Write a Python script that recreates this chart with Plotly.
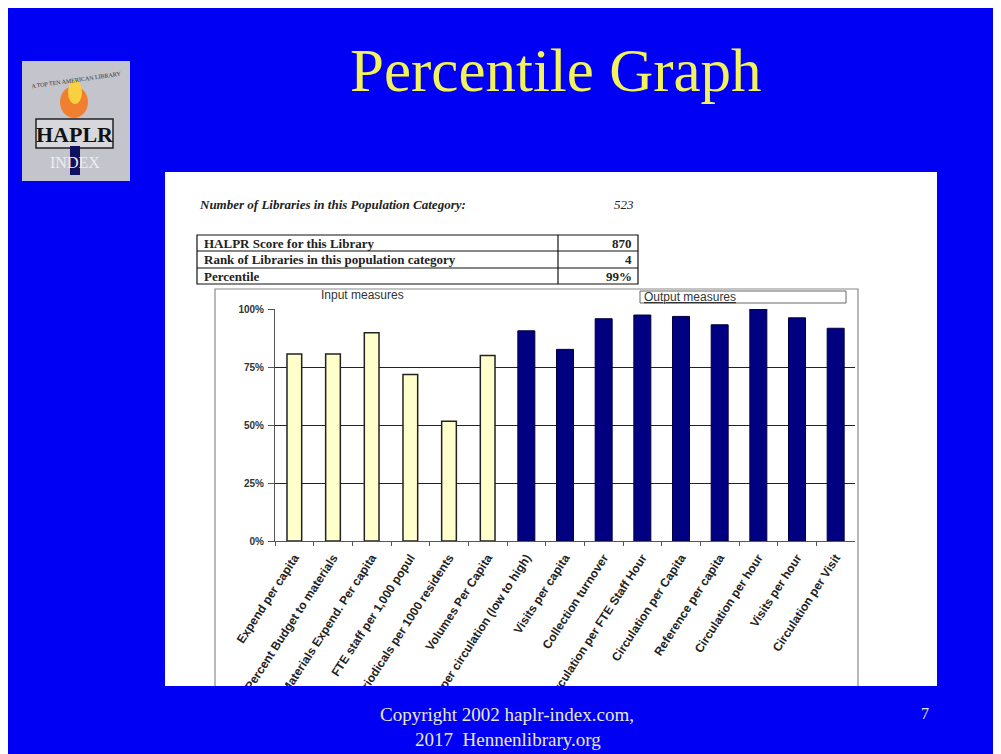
import plotly.graph_objects as go

W, H = 1001, 754
OFF = 8  # page body margin offset

categories = [
    "Expend per capita", "Percent Budget to materials", "Materials Expend. Per capita",
    "FTE staff per 1,000 popul", "Periodicals per 1000 residents", "Volumes Per Capita",
    "Cost per circulation (low to high)", "Visits per capita", "Collection turnover",
    "Circulation per FTE Staff Hour", "Circulation per Capita", "Reference per capita",
    "Circulation per hour", "Visits per hour", "Circulation per Visit",
]
input_values = [0.806, 0.806, 0.898, 0.718, 0.516, 0.80]
output_values = [0.906, 0.826, 0.958, 0.974, 0.968, 0.932, 1.0, 0.962, 0.917]
y_ticks = [0, 0.25, 0.5, 0.75, 1.0]
y_tick_labels = ["0%", "25%", "50%", "75%", "100%"]

table_rows = ["HALPR Score for this Library", "Rank of Libraries in this population category", "Percentile"]
table_values = ["870", "4", "99%"]
n_libraries = "523"


def px(x):
    return (x - OFF) / W


def py(y):
    return 1 - (y - OFF) / H


fig = go.Figure()
fig.add_trace(go.Bar(
    x=categories[:6], y=input_values, width=0.38,
    marker=dict(color="#FFFFCC", line=dict(color="#222222", width=1.5)),
    showlegend=False,
))
fig.add_trace(go.Bar(
    x=categories[6:], y=output_values, width=0.44,
    marker=dict(color="#000080", line=dict(color="#000040", width=1)),
    showlegend=False,
))

BLUE = "#0000F5"
shapes = []
# white chart area
shapes.append(dict(type="rect", xref="paper", yref="paper", x0=px(165), x1=px(937), y0=py(686), y1=py(172),
                   fillcolor="white", line=dict(width=0), layer="below"))
# chart frame
shapes.append(dict(type="rect", xref="paper", yref="paper", x0=px(215), x1=px(858), y0=py(700), y1=py(289),
                   fillcolor="rgba(0,0,0,0)", line=dict(color="#8A8A8A", width=1.2), layer="below"))
# table
shapes.append(dict(type="rect", xref="paper", yref="paper", x0=px(197), x1=px(638), y0=py(284), y1=py(235),
                   fillcolor="white", line=dict(color="#111111", width=1.2), layer="below"))
for yy in [251, 268]:
    shapes.append(dict(type="line", xref="paper", yref="paper", x0=px(197), x1=px(638), y0=py(yy), y1=py(yy),
                       line=dict(color="#111111", width=1.2), layer="below"))
shapes.append(dict(type="line", xref="paper", yref="paper", x0=px(558), x1=px(558), y0=py(284), y1=py(235),
                   line=dict(color="#111111", width=1.2), layer="below"))
# output measures box
shapes.append(dict(type="rect", xref="paper", yref="paper", x0=px(640), x1=px(846), y0=py(303), y1=py(291),
                   fillcolor="white", line=dict(color="#666666", width=1), layer="below"))
# blue cover at bottom (clips rotated labels)
shapes.append(dict(type="rect", xref="paper", yref="paper", x0=0, x1=1, y0=0, y1=py(686),
                   fillcolor=BLUE, line=dict(width=0), layer="above"))
# logo
shapes.append(dict(type="rect", xref="paper", yref="paper", x0=px(22), x1=px(130), y0=py(181), y1=py(61),
                   fillcolor="#C4C4CC", line=dict(width=0), layer="below"))
shapes.append(dict(type="circle", xref="paper", yref="paper", x0=px(60), x1=px(88), y0=py(118), y1=py(86),
                   fillcolor="#F08030", line=dict(width=0), layer="below"))
shapes.append(dict(type="circle", xref="paper", yref="paper", x0=px(68), x1=px(82), y0=py(104), y1=py(80),
                   fillcolor="#F8D040", line=dict(width=0), layer="below"))
shapes.append(dict(type="rect", xref="paper", yref="paper", x0=px(36), x1=px(113), y0=py(148), y1=py(119),
                   fillcolor="#D8D8DC", line=dict(color="#222222", width=1.5), layer="below"))
shapes.append(dict(type="rect", xref="paper", yref="paper", x0=px(70), x1=px(80), y0=py(175), y1=py(146),
                   fillcolor="#101060", line=dict(width=0), layer="below"))

annotations = []
annotations.append(dict(text="Percentile Graph", xref="paper", yref="paper", x=px(556), y=py(70),
                        showarrow=False, xanchor="center", yanchor="middle",
                        font=dict(family="Liberation Serif", size=61, color="#F2F25A")))
annotations.append(dict(text="Copyright 2002 haplr-index.com,", xref="paper", yref="paper", x=px(507), y=py(714),
                        showarrow=False, xanchor="center", yanchor="middle",
                        font=dict(family="Liberation Serif", size=19, color="#E8E8CC")))
annotations.append(dict(text="2017  Hennenlibrary.org", xref="paper", yref="paper", x=px(508), y=py(739),
                        showarrow=False, xanchor="center", yanchor="middle",
                        font=dict(family="Liberation Serif", size=19, color="#E8E8CC")))
annotations.append(dict(text="7", xref="paper", yref="paper", x=px(925), y=py(713),
                        showarrow=False, xanchor="center", yanchor="middle",
                        font=dict(family="Liberation Serif", size=16, color="#E8E8CC")))
annotations.append(dict(text="<b><i>Number of Libraries in this Population Category:</i></b>", xref="paper", yref="paper",
                        x=px(197), y=py(204), showarrow=False, xanchor="left", yanchor="middle",
                        font=dict(family="Liberation Serif", size=13, color="#222222")))
annotations.append(dict(text="<i>" + n_libraries + "</i>", xref="paper", yref="paper",
                        x=px(624), y=py(204), showarrow=False, xanchor="center", yanchor="middle",
                        font=dict(family="Liberation Serif", size=13, color="#222222")))
row_y = [243, 259.5, 276]
for label, val, yy in zip(table_rows, table_values, row_y):
    annotations.append(dict(text="<b>" + label + "</b>", xref="paper", yref="paper", x=px(202), y=py(yy),
                            showarrow=False, xanchor="left", yanchor="middle",
                            font=dict(family="Liberation Serif", size=13, color="#222222")))
    annotations.append(dict(text="<b>" + val + "</b>", xref="paper", yref="paper", x=px(634), y=py(yy),
                            showarrow=False, xanchor="right", yanchor="middle",
                            font=dict(family="Liberation Serif", size=13, color="#222222")))
annotations.append(dict(text="Input measures", xref="paper", yref="paper", x=px(362), y=py(295),
                        showarrow=False, xanchor="center", yanchor="middle",
                        font=dict(family="Arial", size=12, color="#333333")))
annotations.append(dict(text="<u>Output measures</u>", xref="paper", yref="paper", x=px(642), y=py(297),
                        showarrow=False, xanchor="left", yanchor="middle",
                        font=dict(family="Arial", size=12, color="#333333")))
annotations.append(dict(text="<b>HAPLR</b>", xref="paper", yref="paper", x=px(75), y=py(134),
                        showarrow=False, xanchor="center", yanchor="middle",
                        font=dict(family="Liberation Serif", size=22, color="#111111")))
annotations.append(dict(text="INDEX", xref="paper", yref="paper", x=px(75), y=py(162),
                        showarrow=False, xanchor="center", yanchor="middle",
                        font=dict(family="Liberation Serif", size=16, color="#EEEEEE")))
annotations.append(dict(text="A TOP TEN AMERICAN LIBRARY", xref="paper", yref="paper", x=px(76), y=py(80),
                        showarrow=False, xanchor="center", yanchor="middle", textangle=-8,
                        font=dict(family="Liberation Serif", size=6, color="#333333")))

fig.update_layout(
    width=W, height=H,
    margin=dict(l=0, r=0, t=0, b=0, autoexpand=False),
    paper_bgcolor=BLUE,
    plot_bgcolor="white",
    barmode="overlay",
    shapes=shapes,
    annotations=annotations,
    xaxis=dict(
        domain=[px(275), px(855)],
        automargin=False,
        categoryorder="array", categoryarray=categories,
        tickangle=-57, tickfont=dict(family="Arial", size=12, color="#222222", weight="bold"),
        ticks="outside", tickson="boundaries", ticklen=4, tickcolor="#555555",
        ticklabelstandoff=4,
        showline=True, linecolor="#555555", linewidth=1,
        showgrid=False, fixedrange=True,
    ),
    yaxis=dict(
        domain=[py(541), py(309)],
        automargin=False,
        range=[0, 1],
        tickvals=y_ticks,
        ticktext=["<b>" + t + "</b>" for t in y_tick_labels],
        tickfont=dict(family="Arial", size=10, color="#333333"),
        ticks="outside", ticklen=6, tickcolor="#555555",
        ticklabelstandoff=2,
        showline=True, linecolor="#555555", linewidth=1,
        showgrid=True, gridcolor="#222222", gridwidth=1,
        zeroline=False, fixedrange=True,
    ),
)

fig.write_html("out.html")
